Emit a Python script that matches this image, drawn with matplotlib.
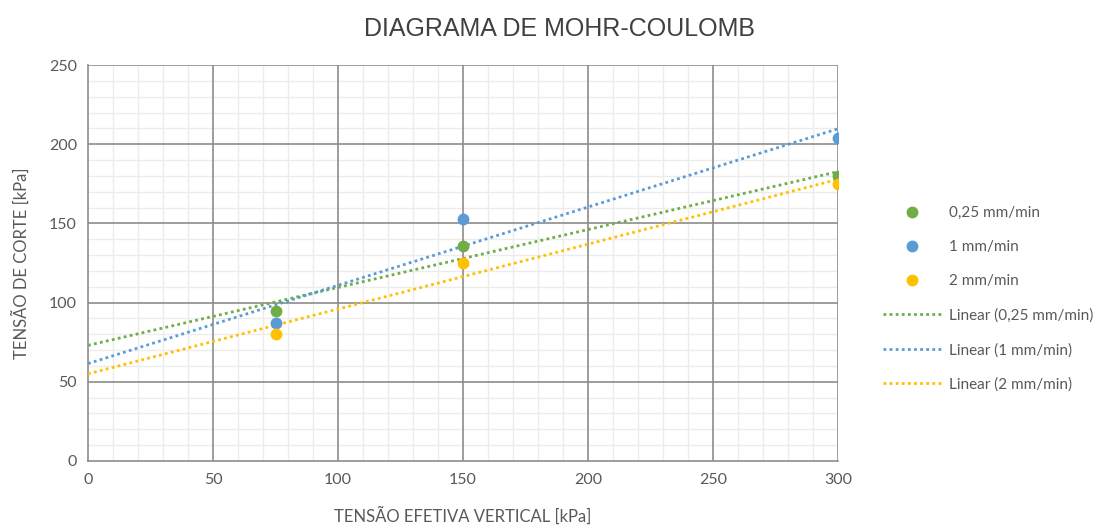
import numpy as np
import matplotlib
matplotlib.use('Agg')
import matplotlib.pyplot as plt
from matplotlib.ticker import MultipleLocator

plt.rcParams['font.family'] = ['Lato', 'DejaVu Sans']

tensao_vertical = [75, 150, 300]
corte_025 = [95, 136, 180]
corte_1 = [87, 153, 204]
corte_2 = [80, 125, 175]
series_labels = ['0,25 mm/min', '1 mm/min', '2 mm/min']
series_colors = ['#70AD47', '#5B9BD5', '#FFC000']

txt = '#595959'
fig = plt.figure(figsize=(11.2, 5.25), dpi=100, facecolor='white')
ax = fig.add_axes([0.0786, 0.122, 0.6696, 0.754])

x = np.array(tensao_vertical, dtype=float)
xs = np.array([0, 300])
pts = []
lines = []
for ys, lab, col in zip([corte_025, corte_1, corte_2], series_labels, series_colors):
    p, = ax.plot(x, ys, 'o', color=col, markersize=7.5, label=lab, zorder=4)
    pts.append(p)
    k, b = np.polyfit(x, ys, 1)
    l, = ax.plot(xs, k * xs + b, linestyle=(0, (1, 1.2)), color=col, lw=2,
                 label=f'Linear ({lab})', zorder=3)
    lines.append(l)

ax.set_xlim(0, 300)
ax.set_ylim(0, 250)
ax.xaxis.set_major_locator(MultipleLocator(50))
ax.yaxis.set_major_locator(MultipleLocator(50))

# grid: light minor lines first, darker major lines on top
for v in np.arange(10, 300, 10):
    if v % 50:
        ax.axvline(v, color='#ececec', lw=1, zorder=0)
for v in np.arange(10, 250, 10):
    if v % 50:
        ax.axhline(v, color='#ececec', lw=1, zorder=0)
for v in np.arange(50, 301, 50):
    ax.axvline(v, color='#8c8c8c', lw=1.2, zorder=1)
for v in np.arange(50, 251, 50):
    ax.axhline(v, color='#8c8c8c', lw=1.2, zorder=1)

for s in ['top', 'right']:
    ax.spines[s].set_visible(False)
for s in ['left', 'bottom']:
    ax.spines[s].set_color('#8c8c8c')
    ax.spines[s].set_linewidth(1.2)
ax.tick_params(which='both', length=0, colors=txt, labelsize=11.5)
ax.tick_params(axis='x', pad=9)
ax.tick_params(axis='y', pad=8)

ax.set_xlabel('TENSÃO EFETIVA VERTICAL [kPa]', fontsize=12, color=txt, labelpad=14)
ax.set_ylabel('TENSÃO DE CORTE [kPa]', fontsize=12, color=txt, labelpad=14)
fig.text(0.5, 0.945, 'DIAGRAMA DE MOHR-COULOMB', ha='center', va='center',
         fontsize=18, color='#404040', family='Liberation Sans')

leg = fig.legend(pts + lines, [h.get_label() for h in pts + lines],
                 loc='upper left', bbox_to_anchor=(0.776, 0.634), frameon=False,
                 fontsize=11, labelspacing=1.32, handlelength=3.8, handletextpad=0.5,
                 labelcolor=txt)

fig.savefig('out.png', dpi=100, facecolor='white')
